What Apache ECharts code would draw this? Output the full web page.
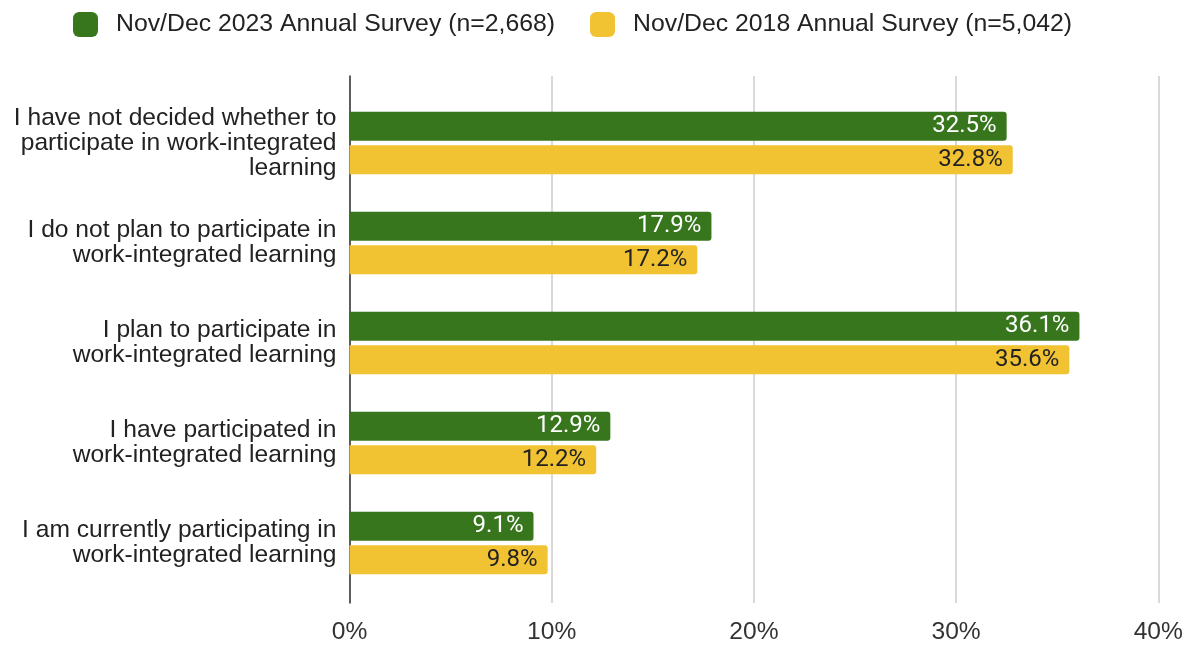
<!DOCTYPE html>
<html>
<head>
<meta charset="utf-8">
<script src="https://cdn.jsdelivr.net/npm/echarts@6/dist/echarts.min.js"></script>
<style>
  html, body { margin: 0; padding: 0; background: #ffffff; }
  #chart { width: 1191px; height: 645px; }
</style>
</head>
<body>
<div id="chart"></div>
<script>
// Work-integrated learning participation, two survey waves
const categories = [
  'I have not decided whether to\nparticipate in work-integrated\nlearning',
  'I do not plan to participate in\nwork-integrated learning',
  'I plan to participate in\nwork-integrated learning',
  'I have participated in\nwork-integrated learning',
  'I am currently participating in\nwork-integrated learning'
];
const seriesNames = [
  'Nov/Dec 2023 Annual Survey (n=2,668)',
  'Nov/Dec 2018 Annual Survey (n=5,042)'
];
const values2023 = [32.5, 17.9, 36.1, 12.9, 9.1];
const values2018 = [32.8, 17.2, 35.6, 12.2, 9.8];
const xTicks = [0, 10, 20, 30, 40];

const GREEN = '#38761d';
const YELLOW = '#f1c232';
const SANS = '"Liberation Sans", Arial, sans-serif';

const chart = echarts.init(document.getElementById('chart'), null, { renderer: 'canvas' });

function barLabel(color) {
  return {
    show: true,
    position: 'insideRight',
    distance: 10,
    color: color,
    fontFamily: 'Roboto, sans-serif',
    fontSize: 24,
    formatter: p => p.value.toFixed(1) + '%'
  };
}

const option = {
  backgroundColor: '#ffffff',
  animation: false,
  legend: {
    left: 68,
    top: 7,
    itemWidth: 25,
    itemHeight: 25,
    itemGap: 35,
    icon: 'roundRect',
    textStyle: {
      fontFamily: SANS,
      fontSize: 24.8,
      lineHeight: 25,
      color: '#222222',
      padding: [0, 0, 0, 13]
    },
    data: seriesNames
  },
  grid: [
    // bars
    { left: 349.5, right: 32.7, top: 93, bottom: 52 },
    // gridlines, axis line and tick labels span a taller band
    { left: 349.5, right: 32.7, top: 76, bottom: 37 }
  ],
  xAxis: [
    {
      gridIndex: 0, type: 'value', min: xTicks[0], max: xTicks[xTicks.length - 1], interval: 10,
      show: false
    },
    {
      gridIndex: 1, type: 'value', min: xTicks[0], max: xTicks[xTicks.length - 1], interval: 10,
      axisLine: { show: false },
      axisTick: { show: false },
      axisLabel: {
        margin: 17,
        fontFamily: SANS,
        fontSize: 24.6,
        color: '#333333',
        formatter: v => v + '%'
      },
      splitLine: { show: true, lineStyle: { color: '#cccccc', width: 1.5 } }
    }
  ],
  yAxis: [
    {
      gridIndex: 0, type: 'category', data: categories, inverse: true,
      axisLine: { show: false },
      axisTick: { show: false },
      splitLine: { show: false },
      axisLabel: {
        margin: 13,
        fontFamily: SANS,
        fontSize: 24.6,
        lineHeight: 25,
        color: '#222222',
        align: 'right'
      }
    },
    {
      gridIndex: 1, type: 'value', min: 0, max: 1,
      axisLine: { show: true, onZero: false, lineStyle: { color: '#333333', width: 1.5 } },
      axisTick: { show: false },
      axisLabel: { show: false },
      splitLine: { show: false }
    }
  ],
  series: [
    {
      name: seriesNames[0],
      type: 'bar',
      xAxisIndex: 0, yAxisIndex: 0,
      data: values2023,
      barWidth: 29,
      barGap: '15%',
      itemStyle: { color: GREEN, borderRadius: [0, 3, 3, 0] },
      label: barLabel('#ffffff'),
      z: 3
    },
    {
      name: seriesNames[1],
      type: 'bar',
      xAxisIndex: 0, yAxisIndex: 0,
      data: values2018,
      barWidth: 29,
      barGap: '15%',
      itemStyle: { color: YELLOW, borderRadius: [0, 3, 3, 0] },
      label: barLabel('#222222'),
      z: 3
    }
  ]
};

chart.setOption(option);
</script>
</body>
</html>
